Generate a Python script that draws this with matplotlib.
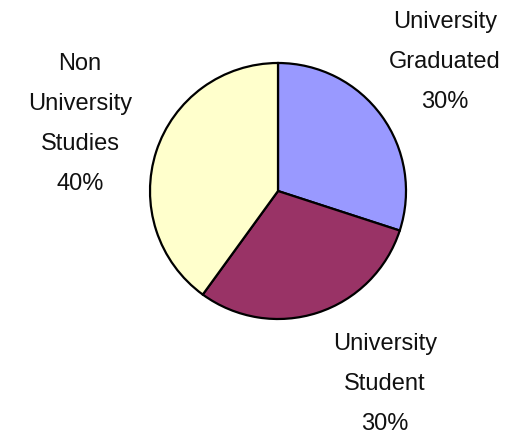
import matplotlib
matplotlib.use('Agg')
import matplotlib.pyplot as plt

labels = ['University\nGraduated', 'University\nStudent', 'Non\nUniversity\nStudies']
shares = [30, 30, 40]
colors = ['#9999FF', '#993366', '#FFFFCC']

# label anchor (centre of text block) in pixel coords, y from top
label_pos = [(445, 62), (385, 384), (80, 124)]

W, H = 530, 437
fig = plt.figure(figsize=(W / 100, H / 100), dpi=100)
ax = fig.add_axes([0, 0, 1, 1])
ax.set_xlim(0, W)
ax.set_ylim(0, H)
ax.axis('off')

ax.pie(shares, colors=colors, startangle=90, counterclock=False,
       center=(278, H - 191), radius=128,
       wedgeprops=dict(edgecolor='black', linewidth=1.6))
ax.set_xlim(0, W)
ax.set_ylim(0, H)
ax.set_aspect('equal')

for lab, v, (px, py) in zip(labels, shares, label_pos):
    ax.text(px, H - py, f'{lab}\n{v}%', ha='center', va='center',
            fontsize=17, family='Liberation Sans', color='#111111',
            linespacing=2.05)

fig.savefig('out.png', dpi=100)
